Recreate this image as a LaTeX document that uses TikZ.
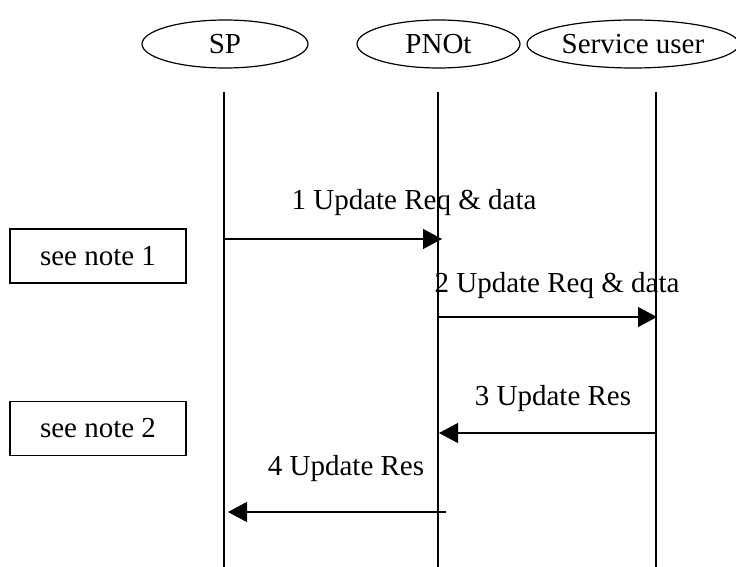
\documentclass[tikz,border=0pt]{standalone}
\usepackage{fontspec}
\setmainfont{Liberation Serif}
\usetikzlibrary{shapes.geometric,arrows.meta}
\begin{document}
\begin{tikzpicture}[x=1pt,y=-1pt,
  every node/.style={font=\fontsize{29}{34}\selectfont},
  actor/.style={draw,ellipse,line width=1.2pt,minimum height=48pt,inner sep=0pt},
  lifeline/.style={line width=1.3pt},
  msg/.style={line width=1.3pt,-{Triangle[length=19pt,width=20pt]}},
  notebox/.style={draw,line width=1.2pt,minimum width=176pt,minimum height=54pt,inner sep=0pt},
  lbl/.style={inner sep=0pt}]
\useasboundingbox (0,0) rectangle (736,567);
% actors
\node[actor,minimum width=166pt] (sp) at (225,44) {SP};
\node[actor,minimum width=163pt] (pno) at (438.5,44) {PNOt};
\node[actor,minimum width=212pt] (su) at (633,44) {Service user};
% lifelines
\coordinate (spT) at (224,92);  \coordinate (spB) at (224,567);
\coordinate (pnT) at (438,92);  \coordinate (pnB) at (438,567);
\coordinate (suT) at (656,92);  \coordinate (suB) at (656,567);
\draw[lifeline] (spT) -- (spB);
\draw[lifeline] (pnT) -- (pnB);
\draw[lifeline] (suT) -- (suB);
% message end points
\coordinate (m1a) at (224,239); \coordinate (m1b) at (442,239);
\coordinate (m2a) at (438,317); \coordinate (m2b) at (657,317);
\coordinate (m3a) at (656,433); \coordinate (m3b) at (439,433);
\coordinate (m4a) at (446,512); \coordinate (m4b) at (228,512);
\draw[msg] (m1a) -- (m1b);
\draw[msg] (m2a) -- (m2b);
\draw[msg] (m3a) -- (m3b);
\draw[msg] (m4a) -- (m4b);
% labels
\node[lbl] (l1) at (414,203) {1 Update Req \& data};
\node[lbl] (l2) at (557,286) {2 Update Req \& data};
\node[lbl] (l3) at (553,399) {3 Update Res};
\node[lbl] (l4) at (346,469) {4 Update Res};
% notes
\node[notebox] (n1) at (98,256) {see note 1};
\node[notebox] (n2) at (98,428.5) {see note 2};
\end{tikzpicture}
\end{document}
